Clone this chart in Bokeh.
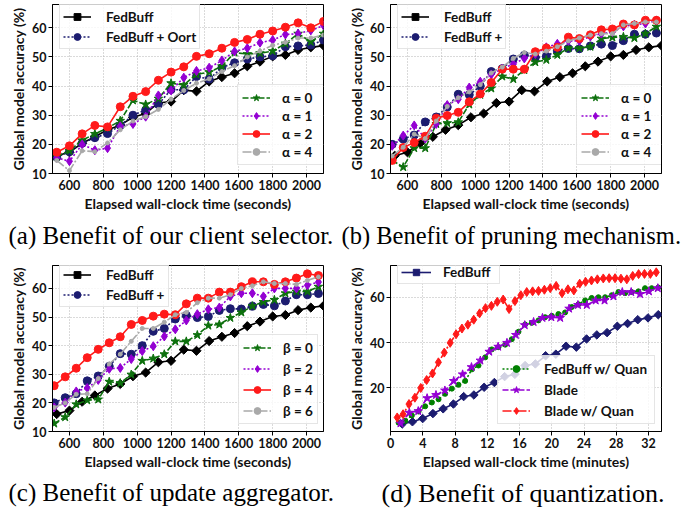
import math
from bokeh.plotting import figure
from bokeh.models import Range1d, FixedTicker, Legend, LegendItem, Title
from bokeh.layouts import column, row
from bokeh.embed import file_html
from bokeh.resources import INLINE

# ---------------- data ----------------
# shared FedBuff baseline (panels a, b, c)
fb_x = [525, 600, 675, 750, 825, 900, 975, 1050, 1125, 1200, 1275, 1350,
        1425, 1500, 1575, 1650, 1725, 1800, 1875, 1950, 2025, 2100]
fb_y = [16.1, 17.3, 20.4, 22.6, 25.0, 26.6, 29.3, 30.6, 34.2, 34.7, 38.6, 38.2,
        41.6, 43.1, 44.4, 46.8, 48.4, 50.2, 50.7, 52.4, 53.3, 53.9]

# panel (a): same time grid as FedBuff
oort_y = [15.6, 17.5, 20.4, 22.3, 23.7, 26.5, 30.0, 31.8, 33.7, 38.8, 38.7, 43.3,
          42.4, 46.3, 48.0, 49.3, 50.0, 50.4, 53.5, 53.8, 54.1, 55.8]
a0_y = [15.8, 17.8, 21.4, 23.6, 25.6, 28.1, 35.1, 33.7, 35.7, 41.0, 40.4, 44.0,
        44.8, 46.8, 51.5, 51.0, 51.3, 52.0, 54.6, 58.0, 55.2, 58.0]
a1_y = [15.4, 14.2, 20.0, 18.0, 18.7, 26.2, 27.0, 29.5, 36.8, 38.5, 42.9, 45.2,
        46.3, 48.8, 51.9, 53.0, 54.9, 55.8, 57.7, 58.0, 59.1, 60.8]
a2_y = [17.3, 19.5, 23.6, 26.5, 26.0, 32.9, 36.5, 38.1, 42.0, 44.8, 46.6, 50.2,
        51.1, 53.0, 55.0, 56.0, 57.8, 58.9, 60.2, 61.7, 60.0, 62.2]
a4_y = [14.5, 11.0, 17.8, 17.5, 20.5, 25.0, 28.0, 29.5, 32.0, 35.5, 38.5, 41.0,
        42.5, 45.0, 47.0, 50.0, 52.0, 54.0, 55.0, 56.5, 56.5, 57.5]

# panels (b) and (c): finer time grid
g_x = [510, 575, 640, 705, 770, 835, 900, 965, 1030, 1095, 1160, 1225, 1290,
       1355, 1420, 1485, 1550, 1615, 1680, 1745, 1810, 1875, 1940, 2005, 2070]
fbp_y = [20.0, 21.8, 23.2, 27.7, 29.4, 32.8, 37.2, 37.0, 40.0, 45.0, 46.0, 49.3, 50.6,
         49.8, 50.2, 52.3, 52.9, 52.8, 53.8, 54.4, 53.9, 55.6, 57.8, 57.8, 58.2]
b0_y = [14.5, 12.2, 18.7, 18.7, 27.0, 27.3, 27.6, 33.7, 37.0, 39.2, 43.3, 42.4, 45.5,
        48.2, 49.0, 50.7, 53.0, 53.0, 53.5, 56.3, 56.7, 56.9, 56.5, 58.0, 60.4]
b1_y = [19.5, 23.0, 26.5, 22.0, 27.0, 33.5, 35.5, 39.5, 41.5, 44.0, 46.0, 47.5, 49.5,
        51.0, 53.3, 54.5, 55.5, 55.5, 57.0, 58.0, 58.5, 60.5, 61.0, 61.5, 62.5]
b2_y = [14.5, 18.9, 20.6, 22.8, 29.0, 29.9, 31.0, 34.6, 37.3, 41.2, 45.8, 45.8, 45.8,
        51.8, 53.1, 53.3, 56.8, 56.3, 57.6, 59.3, 59.6, 61.3, 61.0, 62.6, 62.6]
b4_y = [16.0, 19.0, 23.5, 22.0, 28.0, 33.0, 36.0, 38.0, 40.5, 44.5, 46.5, 49.5, 51.5,
        51.0, 52.0, 53.5, 55.5, 56.5, 57.5, 58.0, 58.0, 61.0, 61.5, 62.0, 62.0]

c0_y = [12.8, 15.0, 19.5, 20.9, 21.2, 27.4, 26.9, 29.9, 34.7, 35.5, 37.0, 41.5, 41.5,
        43.7, 47.0, 47.4, 49.7, 51.6, 53.8, 55.3, 56.0, 58.3, 58.9, 58.9, 60.6]
c2_y = [18.4, 20.1, 24.0, 25.2, 28.0, 31.9, 32.2, 35.3, 38.1, 39.8, 43.2, 45.7, 48.8,
        51.0, 52.7, 53.3, 57.2, 58.3, 58.3, 57.2, 60.0, 60.0, 60.0, 61.1, 62.2]
c4_y = [26.0, 29.1, 32.1, 35.8, 38.7, 41.0, 43.1, 47.4, 48.8, 50.3, 51.0, 50.8, 54.6,
        56.6, 56.6, 58.7, 58.7, 60.6, 62.3, 62.3, 61.4, 62.3, 63.6, 65.1, 64.5]
c6_y = [18.4, 20.0, 23.0, 23.2, 28.5, 33.6, 37.0, 41.5, 46.0, 46.0, 48.2, 50.8, 51.6,
        55.0, 56.6, 56.6, 57.8, 60.0, 60.9, 62.3, 61.7, 61.7, 61.4, 62.8, 64.0]

# panel (d): minutes
d_fb_x = [1.45, 2.72, 3.99, 5.26, 6.53, 7.80, 9.07, 10.34, 11.61, 12.88, 14.15, 15.42, 16.69,
          17.96, 19.23, 20.50, 21.77, 23.04, 24.31, 25.58, 26.85, 28.12, 29.39, 30.66, 31.93, 33.20]
d_fb_y = [4.1, 5.1, 6.5, 8.7, 10.8, 12.9, 16.2, 16.9, 20.3, 22.4, 25.0, 26.0, 29.9,
          30.6, 34.2, 34.9, 38.4, 38.0, 41.6, 43.4, 44.4, 47.2, 48.4, 50.1, 50.9, 52.3]
d_fq_x = [1.00, 1.83, 2.65, 3.48, 4.30, 5.13, 5.96, 6.78, 7.61, 8.43, 9.26, 10.09, 10.91,
          11.74, 12.56, 13.39, 14.22, 15.04, 15.87, 16.69, 17.52, 18.35, 19.17, 20.00,
          20.82, 21.65, 22.48, 23.30, 24.13, 24.95, 25.78, 26.61, 27.43, 28.26, 29.08,
          29.91, 30.74, 31.56, 32.39, 33.20]
d_fq_y = [4.7, 5.5, 7.9, 9.6, 11.9, 13.6, 15.0, 17.4, 19.7, 21.4, 23.1, 28.2, 29.9,
          33.5, 37.0, 38.0, 39.1, 41.5, 44.8, 48.0, 48.7, 49.8, 51.2, 51.8, 52.6, 53.3,
          55.7, 56.9, 58.6, 59.7, 60.0, 60.0, 60.9, 62.3, 61.8, 62.3, 62.6, 64.0, 64.0, 64.3]
d_bl_x = [1.24, 2.34, 3.44, 4.54, 5.64, 6.74, 7.84, 8.94, 10.04, 11.14, 12.24, 13.34,
          14.44, 15.54, 16.64, 17.74, 18.84, 19.94, 21.04, 22.14, 23.24, 24.34, 25.44,
          26.54, 27.64, 28.74, 29.84, 30.94, 32.04, 33.14]
d_bl_y = [4.4, 9.1, 9.8, 15.5, 16.9, 18.9, 23.1, 26.0, 29.2, 32.1, 36.0, 38.2, 39.9,
          43.4, 47.7, 49.1, 50.9, 51.2, 50.9, 55.0, 56.6, 56.6, 58.6, 58.6, 60.4, 62.3,
          62.3, 61.4, 62.6, 64.0]
d_bq_x = [0.83, 1.56, 2.29, 3.02, 3.75, 4.48, 5.21, 5.94, 6.67, 7.40, 8.13, 8.86, 9.59,
          10.32, 11.05, 11.78, 12.51, 13.24, 13.97, 14.70, 15.43, 16.16, 16.89, 17.62,
          18.35, 19.08, 19.81, 20.54, 21.27, 22.00, 22.73, 23.46, 24.19, 24.92, 25.65,
          26.38, 27.11, 27.84, 28.57, 29.30, 30.03, 30.76, 31.49, 32.22, 32.95]
d_bq_y = [7.0, 8.4, 12.9, 15.7, 20.0, 23.5, 26.4, 31.3, 35.6, 39.9, 43.7, 46.2, 47.9,
          50.1, 52.9, 55.2, 56.2, 58.0, 59.0, 54.8, 58.3, 60.9, 62.3, 62.6, 62.8, 63.3,
          64.0, 65.0, 61.8, 63.5, 63.0, 66.0, 66.8, 67.4, 67.9, 68.3, 68.4, 68.4, 68.2,
          67.9, 69.4, 70.2, 70.3, 70.3, 71.0]

sec_ticks = [600, 800, 1000, 1200, 1400, 1600, 1800, 2000]
acc_ticks = [10, 20, 30, 40, 50, 60]
min_ticks = [0, 4, 8, 12, 16, 20, 24, 28, 32]
acc_ticks_d = [20, 40, 60]

captions = ["(a) Benefit of our client selector.", "(b) Benefit of pruning mechanism.",
            "(c) Benefit of update aggregator.", "(d) Benefit of quantization."]

# ---------------- style ----------------
AXF = "Lato"
CAPF = "Liberation Serif"
NAVY = "#1c1c70"
GREEN = "#0d700d"
PURPLE = "#9400d3"
RED = "#ff1a1a"
GRAY = "#a9a9a9"
DASHED = "6 2"
DOTTED = "2 2"
DASHDOT = "9 2 2 2"
D45 = math.pi / 4


def make_fig(w, h, xr, yr, xticks, yticks, mbl, mbr, mbt, mbb, xlabel):
    p = figure(width=w, height=h, x_range=Range1d(*xr), y_range=Range1d(*yr),
               output_backend="svg", toolbar_location=None,
               min_border_left=mbl, min_border_right=mbr,
               min_border_top=mbt, min_border_bottom=mbb)
    p.xaxis.ticker = FixedTicker(ticks=xticks)
    p.yaxis.ticker = FixedTicker(ticks=yticks)
    p.xaxis.axis_label = xlabel
    p.yaxis.axis_label = "Global model accuracy (%)"
    for ax in (p.xaxis[0], p.yaxis[0]):
        ax.axis_label_text_font = AXF
        ax.axis_label_text_font_size = "14px"
        ax.axis_label_text_font_style = "bold"
        ax.axis_label_text_color = "#111111"
        ax.major_label_text_font = AXF
        ax.major_label_text_font_size = "12.5px"
        ax.major_label_text_font_style = "bold"
        ax.major_label_text_color = "#111111"
        ax.major_tick_out = 4
        ax.major_tick_in = 0
        ax.minor_tick_out = 0
        ax.minor_tick_in = 0
        ax.major_label_standoff = 2
        ax.axis_label_standoff = 2
        ax.axis_line_color = "black"
        ax.major_tick_line_color = "black"
    p.grid.grid_line_color = "#b5b5b5"
    p.grid.grid_line_dash = "1 2"
    p.outline_line_color = "black"
    p.outline_line_alpha = 1.0
    p.background_fill_color = "white"
    p.border_fill_color = "white"
    return p


def series(p, x, y, color, dash, marker, size, angle=0.0):
    r1 = p.line(x, y, line_color=color, line_width=1.6, line_dash=dash)
    r2 = p.scatter(x, y, marker=marker, size=size, fill_color=color,
                   line_color=color, angle=angle)
    return [r1, r2]


def legend(p, items, loc, label_width, padding, spacing, standoff,
           glyph_width=28, item_h=17):
    lg = Legend(items=[LegendItem(label=l, renderers=r) for l, r in items],
                location=loc, label_width=label_width, label_height=item_h,
                glyph_height=item_h, glyph_width=glyph_width, padding=padding,
                spacing=spacing, label_standoff=standoff, margin=0,
                background_fill_color="white", background_fill_alpha=0.8,
                border_line_color="#cccccc", border_line_width=1,
                label_text_font=AXF, label_text_font_size="13.5px",
                label_text_font_style="bold", label_text_color="#111111")
    p.add_layout(lg)


def caption(p, text, offset, standoff, size="25px"):
    t = Title(text=text, align="left", offset=offset, standoff=standoff,
              text_font=CAPF, text_font_size=size, text_font_style="normal",
              text_color="black")
    p.add_layout(t, "below")


XR = (500, 2100)
YR = (10, 68)
XLAB = "Elapsed wall-clock time (seconds)"

# ---------- (a) ----------
pa = make_fig(340, 254, XR, YR, sec_ticks, acc_ticks, 52, 17, 4, 77, XLAB)
ra_fb = series(pa, fb_x, fb_y, "black", "solid", "square", 6.5, D45)
ra_oo = series(pa, fb_x, oort_y, NAVY, DOTTED, "circle", 8)
ra_0 = series(pa, fb_x, a0_y, GREEN, DASHED, "star", 9)
ra_1 = series(pa, fb_x, a1_y, PURPLE, DOTTED, "diamond", 9)
ra_2 = series(pa, fb_x, a2_y, RED, "solid", "circle", 8)
ra_4 = series(pa, fb_x, a4_y, GRAY, DASHDOT, "circle", 4)
legend(pa, [("FedBuff", ra_fb), ("FedBuff + Oort", ra_oo)], (7, 124), 86, 3, 3, 15)
legend(pa, [("α = 0", ra_0), ("α = 1", ra_1), ("α = 2", ra_2), ("α = 4", ra_4)],
       (185, 8), 38, 4, 1, 12)
caption(pa, captions[0], -44, 11)

# ---------- (b) ----------
pb = make_fig(341, 254, XR, YR, sec_ticks, acc_ticks, 50, 20, 4, 77, XLAB)
rb_fb = series(pb, fb_x, fb_y, "black", "solid", "square", 6.5, D45)
rb_fp = series(pb, g_x, fbp_y, NAVY, DOTTED, "circle", 8)
rb_0 = series(pb, g_x, b0_y, GREEN, DASHED, "star", 9)
rb_1 = series(pb, g_x, b1_y, PURPLE, DOTTED, "diamond", 9)
rb_2 = series(pb, g_x, b2_y, RED, "solid", "circle", 8)
rb_4 = series(pb, g_x, b4_y, GRAY, DASHDOT, "circle", 4)
legend(pb, [("FedBuff", rb_fb), ("FedBuff +", rb_fp)], (7, 124), 57, 3, 3, 15)
legend(pb, [("α = 0", rb_0), ("α = 1", rb_1), ("α = 2", rb_2), ("α = 4", rb_4)],
       (186, 8), 37, 4, 1, 12)
caption(pb, captions[1], -49, 11, "24.5px")

# ---------- (c) ----------
pc = make_fig(340, 258, XR, YR, sec_ticks, acc_ticks, 52, 17, 11, 75, XLAB)
rc_fb = series(pc, fb_x, fb_y, "black", "solid", "square", 6.5, D45)
rc_fp = series(pc, g_x, fbp_y, NAVY, DOTTED, "circle", 8)
rc_0 = series(pc, g_x, c0_y, GREEN, DASHED, "star", 9)
rc_2 = series(pc, g_x, c2_y, PURPLE, DOTTED, "diamond", 9)
rc_4 = series(pc, g_x, c4_y, RED, "solid", "circle", 8)
rc_6 = series(pc, g_x, c6_y, GRAY, DASHDOT, "circle", 4)
legend(pc, [("FedBuff", rc_fb), ("FedBuff +", rc_fp)], (7, 124), 59, 3, 3, 15)
legend(pc, [("β = 0", rc_0), ("β = 2", rc_2), ("β = 4", rc_4), ("β = 6", rc_6)],
       (186, 7), 29, 4, 4, 12)
caption(pc, captions[2], -44, 9)

# ---------- (d) ----------
pd_ = make_fig(341, 258, (0, 33.6), (0.8, 74), min_ticks, acc_ticks_d, 50, 20, 11, 75,
               "Elapsed wall-clock time (minutes)")
rd_fb = series(pd_, d_fb_x, d_fb_y, NAVY, "solid", "square", 6, D45)
rd_fq = series(pd_, d_fq_x, d_fq_y, "green", DOTTED, "circle", 5)
rd_bl = series(pd_, d_bl_x, d_bl_y, PURPLE, DASHED, "star", 9)
rd_bq = series(pd_, d_bq_x, d_bq_y, RED, DASHDOT, "diamond", 9)
legend(pd_, [("FedBuff", rd_fb)], (7, 147), 53, 3, 0, 12, glyph_width=30, item_h=16)
legend(pd_, [("FedBuff w/ Quan", rd_fq), ("Blade", rd_bl), ("Blade w/ Quan", rd_bq)],
       (107, 7), 106, 4, 4, 14)
caption(pd_, captions[3], -9, 9, "26px")

layout = column(row(pa, pb), row(pc, pd_))

with open("out.html", "w") as f:
    f.write(file_html(layout, INLINE))
